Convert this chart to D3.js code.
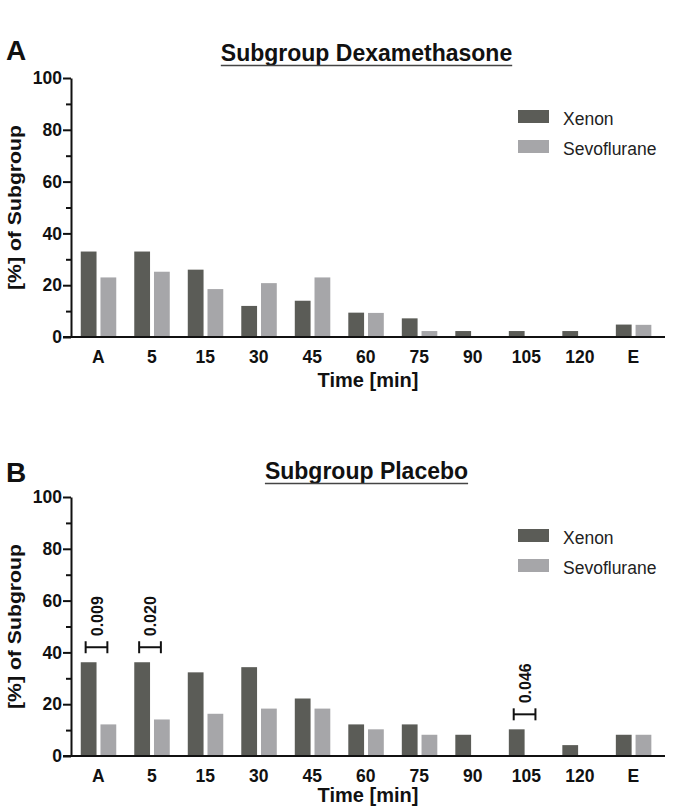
<!DOCTYPE html>
<html>
<head>
<meta charset="utf-8">
<script src="https://cdn.jsdelivr.net/npm/d3@7"></script>
<style>
  html, body { margin: 0; padding: 0; background: #fff; }
  svg { display: block; font-family: "Liberation Sans", Arial, sans-serif; }
</style>
</head>
<body>
<svg id="chart" width="678" height="807"></svg>
<script>
// ---- DATA ----
const categories = ["A", "5", "15", "30", "45", "60", "75", "90", "105", "120", "E"];
const seriesNames = ["Xenon", "Sevoflurane"];
const xenonDexa    = [33, 33, 26, 12, 14, 9.4, 7.2, 2.3, 2.3, 2.3, 4.8];
const sevoDexa     = [23, 25.2, 18.5, 20.8, 23, 9.3, 2.3, 0, 0, 0, 4.7];
const xenonPlacebo = [36.2, 36.2, 32.3, 34.3, 22.2, 12.2, 12.2, 8.2, 10.3, 4.2, 8.2];
const sevoPlacebo  = [12.2, 14.1, 16.3, 18.3, 18.3, 10.3, 8.2, 0, 0, 0, 8.2];
const yTickValues  = [0, 10, 20, 30, 40, 50, 60, 70, 80, 90, 100];
const sigCategories = ["A", "5", "105"];
const sigLabels     = ["0.009", "0.020", "0.046"];
const panelLetters = ["A", "B"];
const panelTitles  = ["Subgroup Dexamethasone", "Subgroup Placebo"];
const xAxisTitle = "Time [min]";
const yAxisTitle = "[%] of Subgroup";

// ---- LAYOUT ----
const colors = { Xenon: "#5b5c57", Sevoflurane: "#a6a6a9" };
const layout = [
  { y0: 337, y100: 78,  titleY: 61,  letterY: 60,  xTitleY: 387 },
  { y0: 756, y100: 497, titleY: 479, letterY: 482, xTitleY: 802 }
];
const panelData = [
  { xen: xenonDexa, sev: sevoDexa, sig: false },
  { xen: xenonPlacebo, sev: sevoPlacebo, sig: true }
];

const svg = d3.select("#chart");
const axisX = 71;

const x = d3.scaleBand().domain(categories).range([71.5, 660.1]).padding(0);
const xSub = d3.scaleBand().domain(seriesNames).range([-17.5, 18]).paddingInner(0.2);

layout.forEach((L, pi) => {
  const P = panelData[pi];
  const g = svg.append("g");
  const y = d3.scaleLinear().domain([0, 100]).range([L.y0, L.y100]);

  // panel letter
  g.append("text").attr("x", 6).attr("y", L.letterY)
    .attr("font-size", 28).attr("font-weight", "bold").attr("fill", "#111")
    .text(panelLetters[pi]);

  // title with underline
  const t = g.append("text").attr("x", 366.5).attr("y", L.titleY)
    .attr("text-anchor", "middle").attr("font-size", 23).attr("font-weight", "bold")
    .attr("fill", "#111").text(panelTitles[pi]);
  const tw = t.node().getComputedTextLength();
  g.append("line").attr("x1", 366.5 - tw / 2).attr("x2", 366.5 + tw / 2)
    .attr("y1", L.titleY + 4.5).attr("y2", L.titleY + 4.5)
    .attr("stroke", "#444").attr("stroke-width", 1.5);

  // bars
  const rows = categories.map((c, i) => ({ c, Xenon: P.xen[i], Sevoflurane: P.sev[i] }));
  const grp = g.append("g").selectAll("g").data(rows).join("g")
    .attr("transform", d => `translate(${x(d.c) + x.bandwidth() / 2},0)`);
  grp.selectAll("rect").data(d => seriesNames.map(s => ({ s, v: d[s] })).filter(e => e.v > 0))
    .join("rect")
    .attr("x", e => xSub(e.s)).attr("width", xSub.bandwidth())
    .attr("y", e => y(e.v)).attr("height", e => y(0) - y(e.v))
    .attr("fill", e => colors[e.s]);

  // y axis
  const yAxis = d3.axisLeft(y).tickValues(yTickValues).tickSizeOuter(0)
    .tickFormat(v => v % 20 === 0 ? v : "");
  const ya = g.append("g").attr("transform", `translate(${axisX},0)`).call(yAxis);
  ya.select(".domain").attr("stroke", "#111").attr("stroke-width", 2);
  ya.selectAll(".tick line").attr("stroke", "#111").attr("stroke-width", 2)
    .attr("x2", v => v % 20 === 0 ? -8 : -5);
  ya.selectAll(".tick text").attr("x", -9).attr("font-size", 17.5).attr("font-weight", "bold")
    .attr("fill", "#111").attr("font-family", "'Liberation Sans', Arial, sans-serif");

  // x axis
  const xAxis = d3.axisBottom(x).tickSize(0).tickPadding(13);
  const xa = g.append("g").attr("transform", `translate(0,${L.y0})`).call(xAxis);
  xa.select(".domain").remove();
  xa.selectAll(".tick text").attr("font-size", 17.5).attr("font-weight", "bold")
    .attr("fill", "#111").attr("font-family", "'Liberation Sans', Arial, sans-serif")
    .attr("dy", 0).attr("y", 26);
  g.append("line").attr("x1", axisX - 8).attr("x2", 665)
    .attr("y1", L.y0).attr("y2", L.y0).attr("stroke", "#111").attr("stroke-width", 2);

  // axis titles
  g.append("text").attr("x", 368).attr("y", L.xTitleY).attr("text-anchor", "middle")
    .attr("font-size", 20).attr("font-weight", "bold").attr("fill", "#111").text(xAxisTitle);
  g.append("text").attr("transform", `translate(21,${(L.y0 + L.y100) / 2}) rotate(-90)`)
    .attr("text-anchor", "middle").attr("font-size", 18).attr("font-weight", "bold")
    .attr("fill", "#111").attr("textLength", 165).attr("lengthAdjust", "spacingAndGlyphs")
    .text(yAxisTitle);

  // legend
  const lg = g.append("g").selectAll("g").data(seriesNames).join("g")
    .attr("transform", (s, i) => `translate(518,${L.y100 + 32 + i * 30})`);
  lg.append("rect").attr("width", 31).attr("height", 13).attr("fill", s => colors[s]);
  lg.append("text").attr("x", 45).attr("y", 14.5).attr("font-size", 17.5)
    .attr("fill", "#222").text(s => s);

  // significance brackets
  if (P.sig) {
    sigCategories.forEach((c, k) => {
      const i = categories.indexOf(c);
      const cx = x(c) + x.bandwidth() / 2;
      const xl = cx + xSub("Xenon") + xSub.bandwidth() / 2 - 3;
      const xr = cx + xSub("Sevoflurane") + xSub.bandwidth() / 2 - 1;
      const top = y(Math.max(P.xen[i], P.sev[i])) - 15;
      const bg = g.append("g").attr("stroke", "#111").attr("stroke-width", 2);
      bg.append("line").attr("x1", xl).attr("x2", xr).attr("y1", top).attr("y2", top);
      bg.append("line").attr("x1", xl).attr("x2", xl).attr("y1", top - 6).attr("y2", top + 6);
      bg.append("line").attr("x1", xr).attr("x2", xr).attr("y1", top - 6).attr("y2", top + 6);
      const mid = (xl + xr) / 2;
      g.append("text").attr("transform", `translate(${mid + 6},${top - 11}) rotate(-90)`)
        .attr("font-size", 16).attr("font-weight", "bold").attr("fill", "#111")
        .text(sigLabels[k]);
    });
  }
});
</script>
</body>
</html>
